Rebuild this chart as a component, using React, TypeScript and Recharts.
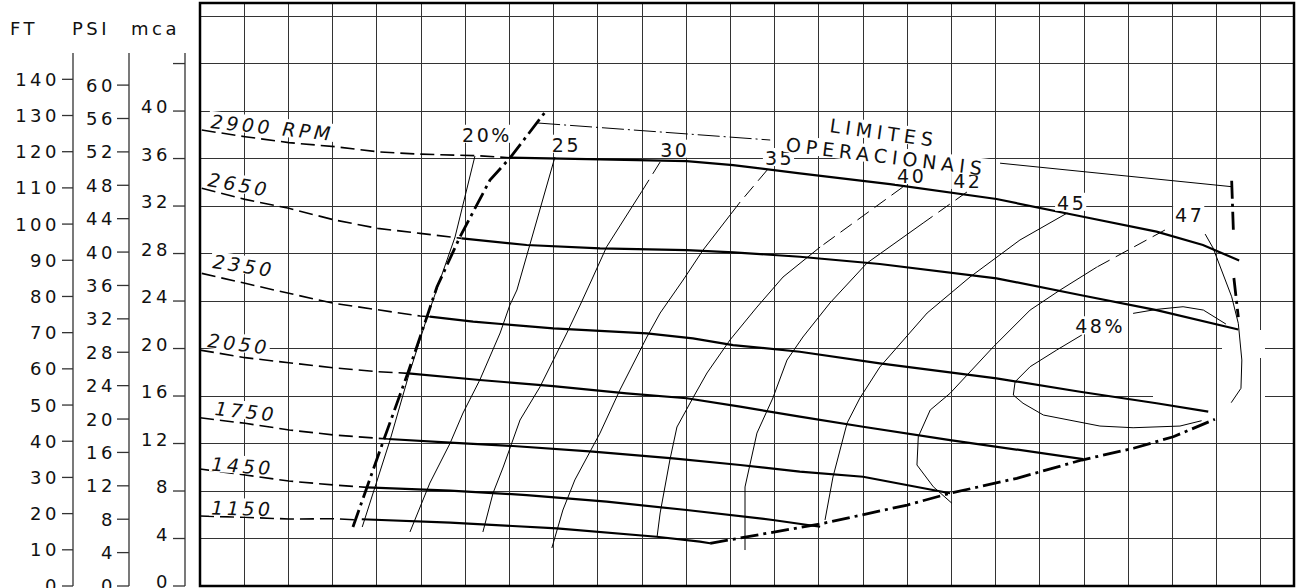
import {
  CartesianGrid,
  Line,
  LineChart,
  ReferenceArea,
  ReferenceDot,
  XAxis,
  YAxis,
} from "recharts";

type Pt = [number, number];

// Q em divisões da grade (o original não tem escala de vazão), H em mca
const RPM_2900_DASH: Pt[] = [[0.04, 38.4], [1.02, 37.84], [2.01, 37.34], [3.05, 37.0], [4.02, 36.57], [4.9, 36.38], [6.26, 36.24], [7.01, 36.07]];
const RPM_2900: Pt[] = [[7.01, 36.07], [9.05, 35.93], [11.01, 35.79], [12.06, 35.45], [13.57, 34.75], [15.61, 33.85], [18.02, 32.59], [19.98, 31.1], [21.64, 29.84], [22.69, 28.72], [23.51, 27.41]];
const RPM_2650_DASH: Pt[] = [[0.04, 33.49], [1.02, 32.56], [2.01, 31.81], [3.05, 30.82], [4.02, 30.12], [4.98, 29.7], [5.92, 29.28]];
const RPM_2650: Pt[] = [[5.92, 29.28], [7.39, 28.72], [9.05, 28.44], [11.01, 28.29], [12.07, 28.1], [13.57, 27.73], [15.38, 27.12], [18.02, 25.91], [19.91, 24.51], [21.64, 23.24], [23.49, 21.6]];
const RPM_2350_DASH: Pt[] = [[0.04, 26.33], [1.02, 25.49], [2.01, 24.65], [3.02, 23.81], [4.98, 22.74], [5.2, 22.68]];
const RPM_2350: Pt[] = [[5.2, 22.68], [6.18, 22.26], [7.99, 21.7], [10.11, 21.28], [11.15, 20.86], [12.06, 20.29], [13.57, 19.73], [15.38, 18.75], [18.02, 17.49], [19.91, 16.36], [21.64, 15.39], [22.81, 14.68]];
const RPM_2050_DASH: Pt[] = [[0, 19.87], [1.02, 19.23], [2.01, 18.8], [3.02, 18.38], [4.02, 18.05], [4.71, 17.91]];
const RPM_2050: Pt[] = [[4.71, 17.9], [6.33, 17.35], [7.99, 16.84], [9.65, 16.23], [11.01, 15.81], [12.22, 15.1], [13.57, 14.26], [15.0, 13.41], [16.97, 12.29], [19.98, 10.69]];
const RPM_1750_DASH: Pt[] = [[0, 14.17], [1.02, 13.7], [2.02, 13.14], [3.02, 12.72], [4.02, 12.44], [4.26, 12.38]];
const RPM_1750: Pt[] = [[4.26, 12.38], [5.66, 12.07], [7.08, 11.79], [8.89, 11.31], [10.7, 10.75], [12.22, 10.19], [13.57, 9.63], [15.0, 9.2], [16.97, 7.81]];
const RPM_1450_DASH: Pt[] = [[0, 9.85], [1.02, 9.35], [2.01, 8.84], [3.02, 8.51], [3.77, 8.31]];
const RPM_1450: Pt[] = [[3.77, 8.31], [5.66, 8.03], [7.39, 7.66], [9.2, 7.1], [11.01, 6.4], [12.96, 5.56], [14.03, 4.99]];
const RPM_1150_DASH: Pt[] = [[0, 5.89], [1.02, 5.79], [2.01, 5.64], [3.02, 5.67], [3.55, 5.56]];
const RPM_1150: Pt[] = [[3.66, 5.62], [5.66, 5.33], [8.07, 4.86], [10.33, 4.15], [11.31, 3.73], [11.54, 3.6]];

// curvas de rendimento
const EFF_20: Pt[] = [[6.22, 36.21], [5.77, 29.39], [5.43, 25.77], [5.14, 22.65], [4.71, 17.6], [4.3, 12.29], [3.67, 4.97]];
const EFF_25: Pt[] = [[8.03, 36.13], [7.17, 24.93], [7.01, 23.66], [6.79, 21.31], [6.33, 17.35], [5.95, 14.57], [5.66, 12.04], [5.2, 8.67], [4.75, 4.55]];
const EFF_30_DASH: Pt[] = [[10.41, 35.71], [9.99, 33.2]];
const EFF_30: Pt[] = [[9.99, 33.2], [9.2, 28.57], [8.86, 25.77], [8.6, 23.66], [8.3, 21.31], [7.69, 16.76], [7.24, 13.98], [6.86, 10.02], [6.63, 7.83], [6.4, 4.55]];
const EFF_35_DASH: Pt[] = [[12.83, 35.03], [12.22, 32.34]];
const EFF_35: Pt[] = [[12.22, 32.34], [11.38, 28.29], [10.93, 25.77], [10.41, 22.99], [10.11, 20.97], [9.5, 16.51], [9.05, 12.88], [8.48, 8.93], [8.21, 6.4], [7.96, 3.2]];
const EFF_40_DASH: Pt[] = [[15.9, 33.6], [14.03, 28.55]];
const EFF_40: Pt[] = [[14.03, 28.55], [13.19, 26.02], [12.6, 23.49], [11.99, 20.72], [11.47, 17.94], [11.15, 15.83], [10.79, 13.39], [10.63, 10.61], [10.41, 6.15], [10.34, 4.13]];
const EFF_42_DASH: Pt[] = [[17.35, 33.18], [16.36, 30.57]];
const EFF_42: Pt[] = [[16.36, 30.57], [15.09, 27.2], [14.25, 23.83], [13.64, 20.97], [13.28, 19.03], [12.96, 15.83], [12.6, 12.88], [12.33, 8.34], [12.33, 3.03]];
const EFF_45: Pt[] = [[19.62, 31.41], [18.55, 29.14], [17.42, 26.02], [16.45, 22.99], [15.38, 18.44], [14.93, 15.83], [14.64, 13.73], [14.32, 9.18], [14.14, 5.56]];
const EFF_47_DASH: Pt[] = [[21.83, 29.98], [20.29, 26.86]];
const EFF_47: Pt[] = [[20.29, 26.86], [19.46, 24.93], [18.78, 23.24], [17.95, 20.15], [16.97, 16.23], [16.52, 14.82], [16.25, 12.57], [16.22, 10.19], [16.59, 8.36], [17.01, 6.97]];
const EFF_47_RIGHT: Pt[] = [[22.74, 29.64], [22.92, 28.46], [23.34, 24.36], [23.49, 22.12], [23.57, 19.03], [23.55, 16.65], [23.33, 15.44]];
const EFF_48_LOW: Pt[] = [[19.95, 21.14], [19.38, 19.87], [18.78, 18.47], [18.44, 17.2], [18.4, 16.08], [18.62, 15.39], [19.08, 14.4], [20.36, 13.47], [21.11, 13.33], [22.17, 13.47], [22.66, 13.92]];
const EFF_48_TOP: Pt[] = [[21.11, 22.96], [21.65, 23.3], [22.24, 23.52], [22.7, 23.24], [23.21, 22.06]];

// limites operacionais
const LIMIT_LEFT: Pt[] = [[3.46, 4.97], [3.78, 8.34], [4.14, 12.13], [4.71, 18.02], [4.98, 20.97], [5.36, 25.18], [5.88, 29.39], [6.56, 34.19], [7.01, 36.04], [7.81, 39.92]];
const LIMIT_LOW: Pt[] = [[11.54, 3.6], [14.03, 5.22], [16.0, 6.82], [16.97, 7.81], [18.48, 9.07], [19.95, 10.61], [21.12, 11.6], [22.02, 12.57], [22.96, 14.04]];
const LIMIT_RIGHT_A: Pt[] = [[23.34, 34.13], [23.38, 29.75]];
const LIMIT_RIGHT_B: Pt[] = [[23.39, 25.94], [23.49, 22.65]];
const LEADER_TOP: Pt[] = [[7.65, 38.99], [12.9, 37.56]];
const LEADER_RIGHT: Pt[] = [[18.1, 35.61], [23.34, 33.63]];

const RPM_LABELS = ["2900 RPM", "2650", "2350", "2050", "1750", "1450", "1150"];
const EFF_LABELS = ["20%", "25", "30", "35", "40", "42", "45", "47", "48%"];
const LIMIT_LABELS = ["LIMITES", "OPERACIONAIS"];

const MCA_TICKS = [0, 4, 8, 12, 16, 20, 24, 28, 32, 36, 40, 44];
const PSI_TICKS = [0, 4, 8, 12, 16, 20, 24, 28, 32, 36, 40, 44, 48, 52, 56, 60];
const FT_TICKS = [0, 10, 20, 30, 40, 50, 60, 70, 80, 90, 100, 110, 120, 130, 140];
const GRID_H = [4, 8, 12, 16, 20, 24, 28, 32, 36, 40, 44, 48];
const GRID_Q = [1, 2, 3, 4, 5, 6, 7, 8, 9, 10, 11, 12, 13, 14, 15, 16, 17, 18, 19, 20, 21, 22, 23, 24];

// trechos apagados da grade no original (perto do limite à direita)
const GAPS_H = [
  { at: 20, from: 23.13, to: 24.1 },
  { at: 16, from: 21.55, to: 24.1 },
];
const GAPS_V = [{ at: 24, from: 19.2, to: 21.55 }];

const Q_MAX = 24.75;
const H_MAX = 49.1;
const FT_MAX = H_MAX * 3.2808;
const PSI_MAX = H_MAX * 1.4223;

const FONT = "DejaVu Sans";
const INK = "#111";
const GRID_INK = "#333";

const STYLE = {
  rpm: { stroke: "#000", strokeWidth: 2.2 },
  rpmDash: { stroke: "#000", strokeWidth: 1.6, strokeDasharray: "14 6" },
  eff: { stroke: "#000", strokeWidth: 1 },
  effDash: { stroke: "#000", strokeWidth: 1, strokeDasharray: "14 7" },
  limit: { stroke: "#000", strokeWidth: 2.8, strokeDasharray: "18 5 3 5" },
  leader: { stroke: "#000", strokeWidth: 1 },
  leaderDash: { stroke: "#000", strokeWidth: 1, strokeDasharray: "22 4 2 4" },
};

const CURVES: { key: string; pts: Pt[]; style: keyof typeof STYLE }[] = [
  { key: "g20", pts: EFF_20, style: "eff" },
  { key: "g25", pts: EFF_25, style: "eff" },
  { key: "g30d", pts: EFF_30_DASH, style: "effDash" },
  { key: "g30", pts: EFF_30, style: "eff" },
  { key: "g35d", pts: EFF_35_DASH, style: "effDash" },
  { key: "g35", pts: EFF_35, style: "eff" },
  { key: "g40d", pts: EFF_40_DASH, style: "effDash" },
  { key: "g40", pts: EFF_40, style: "eff" },
  { key: "g42d", pts: EFF_42_DASH, style: "effDash" },
  { key: "g42", pts: EFF_42, style: "eff" },
  { key: "g45", pts: EFF_45, style: "eff" },
  { key: "g47d", pts: EFF_47_DASH, style: "effDash" },
  { key: "g47", pts: EFF_47, style: "eff" },
  { key: "g47r", pts: EFF_47_RIGHT, style: "eff" },
  { key: "g48a", pts: EFF_48_LOW, style: "eff" },
  { key: "g48b", pts: EFF_48_TOP, style: "eff" },
  { key: "r2900d", pts: RPM_2900_DASH, style: "rpmDash" },
  { key: "r2900", pts: RPM_2900, style: "rpm" },
  { key: "r2650d", pts: RPM_2650_DASH, style: "rpmDash" },
  { key: "r2650", pts: RPM_2650, style: "rpm" },
  { key: "r2350d", pts: RPM_2350_DASH, style: "rpmDash" },
  { key: "r2350", pts: RPM_2350, style: "rpm" },
  { key: "r2050d", pts: RPM_2050_DASH, style: "rpmDash" },
  { key: "r2050", pts: RPM_2050, style: "rpm" },
  { key: "r1750d", pts: RPM_1750_DASH, style: "rpmDash" },
  { key: "r1750", pts: RPM_1750, style: "rpm" },
  { key: "r1450d", pts: RPM_1450_DASH, style: "rpmDash" },
  { key: "r1450", pts: RPM_1450, style: "rpm" },
  { key: "r1150d", pts: RPM_1150_DASH, style: "rpmDash" },
  { key: "r1150", pts: RPM_1150, style: "rpm" },
  { key: "limL", pts: LIMIT_LEFT, style: "limit" },
  { key: "limB", pts: LIMIT_LOW, style: "limit" },
  { key: "limRa", pts: LIMIT_RIGHT_A, style: "limit" },
  { key: "limRb", pts: LIMIT_RIGHT_B, style: "limit" },
  { key: "ldT", pts: LEADER_TOP, style: "leaderDash" },
  { key: "ldR", pts: LEADER_RIGHT, style: "leader" },
];

type TagPos = { q: number; h: number; angle: number; size: number; ls: number; italic?: boolean };

const RPM_POS: TagPos[] = [
  { q: 0.23, h: 38.57, angle: 6, size: 19, ls: 3.5, italic: true },
  { q: 0.16, h: 33.68, angle: 10, size: 19, ls: 3.5, italic: true },
  { q: 0.27, h: 26.78, angle: 8.5, size: 19, ls: 3.5, italic: true },
  { q: 0.16, h: 20.13, angle: 7, size: 19, ls: 3.5, italic: true },
  { q: 0.32, h: 14.4, angle: 6, size: 19, ls: 3.5, italic: true },
  { q: 0.25, h: 9.71, angle: 4, size: 19, ls: 3.5, italic: true },
  { q: 0.25, h: 6.02, angle: 1.5, size: 19, ls: 3.5, italic: true },
];
const EFF_POS: TagPos[] = [
  { q: 5.93, h: 37.41, angle: 0, size: 19, ls: 2.5 },
  { q: 7.96, h: 36.57, angle: 0, size: 19, ls: 2.5 },
  { q: 10.41, h: 36.15, angle: 0, size: 19, ls: 2.5 },
  { q: 12.78, h: 35.45, angle: 0, size: 19, ls: 2.5 },
  { q: 15.77, h: 33.94, angle: 0, size: 19, ls: 2.5 },
  { q: 17.04, h: 33.52, angle: 0, size: 19, ls: 2.5 },
  { q: 19.39, h: 31.68, angle: 0, size: 19, ls: 2.5 },
  { q: 22.06, h: 30.68, angle: 0, size: 19, ls: 2.5 },
  { q: 19.8, h: 21.28, angle: 0, size: 19, ls: 2.5 },
];
const LIMIT_POS: TagPos[] = [
  { q: 14.23, h: 38.23, angle: 8, size: 19, ls: 5 },
  { q: 13.24, h: 36.63, angle: 7, size: 19, ls: 5 },
];

const CHAR_EM: Record<string, number> = {
  " ": 0.318, "%": 0.95, R: 0.695, P: 0.603, M: 0.863, L: 0.557, I: 0.295,
  T: 0.611, E: 0.632, S: 0.635, O: 0.787, A: 0.684, C: 0.698, N: 0.748,
};

function textWidth(s: string, size: number, ls: number) {
  let w = 0;
  for (const ch of s) w += (CHAR_EM[ch] ?? 0.636) * size + ls;
  return w;
}

const rows = (pts: Pt[]) => pts.map(([q, h]) => ({ q, h }));

function tagLabel(text: string, t: TagPos) {
  return (props: any) => {
    const vb = props.viewBox ?? {};
    const cx = (vb.x ?? 0) + (vb.width ?? 0) / 2;
    const cy = (vb.y ?? 0) + (vb.height ?? 0) / 2;
    const w = textWidth(text, t.size, t.ls);
    const cap = t.size * 0.74;
    return (
      <g transform={`translate(${cx} ${cy}) rotate(${t.angle})`}>
        <rect x={-2} y={-cap - 3} width={w + 2} height={cap + 4} fill="#fff" />
        <text
          x={0}
          y={0}
          fontFamily={FONT}
          fontSize={t.size}
          fontStyle={t.italic ? "italic" : "normal"}
          letterSpacing={t.ls}
          fill={INK}
        >
          {text}
        </text>
      </g>
    );
  };
}

// linhas da grade, com os trechos interrompidos do desenho original
function gridLine(kind: "h" | "v") {
  return (props: any) => {
    const { x1, y1, x2, y2, x, y, width, height } = props;
    const style = { stroke: GRID_INK, strokeWidth: 1, shapeRendering: "crispEdges" as const };
    if (![x, y, width, height].every((n) => typeof n === "number")) {
      return <line key={props.key} x1={x1} y1={y1} x2={x2} y2={y2} {...style} />;
    }
    if (kind === "h") {
      const h = ((y + height - y1) / height) * H_MAX;
      const gap = GAPS_H.find((g) => Math.abs(g.at - h) < 0.2);
      if (gap) {
        const a = x + (gap.from / Q_MAX) * width;
        const b = x + (gap.to / Q_MAX) * width;
        return (
          <g key={props.key}>
            <line x1={x1} y1={y1} x2={a} y2={y1} {...style} />
            <line x1={b} y1={y1} x2={x2} y2={y1} {...style} />
          </g>
        );
      }
    } else {
      const q = ((x1 - x) / width) * Q_MAX;
      const gap = GAPS_V.find((g) => Math.abs(g.at - q) < 0.1);
      if (gap) {
        const a = y + height - (gap.to / H_MAX) * height;
        const b = y + height - (gap.from / H_MAX) * height;
        return (
          <g key={props.key}>
            <line x1={x1} y1={y1} x2={x1} y2={a} {...style} />
            <line x1={x1} y1={b} x2={x1} y2={y2} {...style} />
          </g>
        );
      }
    }
    return <line key={props.key} x1={x1} y1={y1} x2={x2} y2={y2} {...style} />;
  };
}

function AxisTick(props: any) {
  const { x, y, payload, hide, dy } = props;
  if (hide && hide.includes(payload.value)) return null;
  return (
    <text
      x={x}
      y={y}
      dy={dy ?? "0.36em"}
      textAnchor="end"
      fontFamily={FONT}
      fontSize={18}
      letterSpacing={3.5}
      fill={INK}
    >
      {payload.value}
    </text>
  );
}

const EmptyTick = () => <g />;

const header = (text: string, dx: number) => (props: any) => {
  const vb = props.viewBox ?? {};
  return (
    <text
      x={(vb.x ?? 0) + (vb.width ?? 0) + dx}
      y={(vb.y ?? 0) + 32}
      fontFamily={FONT}
      fontSize={18}
      letterSpacing={3.5}
      fill={INK}
    >
      {text}
    </text>
  );
};

const AXIS_LINE = { stroke: "#333", strokeWidth: 1.3, strokeDasharray: "0 50 2000" };
const TICK_LINE = { stroke: "#333", strokeWidth: 1.3 };

export default function App() {
  const tags = [
    ...RPM_LABELS.map((s, i) => ({ s, p: RPM_POS[i] })),
    ...EFF_LABELS.map((s, i) => ({ s, p: EFF_POS[i] })),
    ...LIMIT_LABELS.map((s, i) => ({ s, p: LIMIT_POS[i] })),
  ];

  // os eixos Y à esquerda são empilhados pela ordem dos ids (a = junto ao gráfico)
  return (
    <div style={{ position: "absolute", left: 0, top: 0, background: "#fff" }}>
      <LineChart width={1296} height={588} margin={{ top: 3, right: 2, bottom: 2, left: 0 }}>
        <CartesianGrid
          xAxisId="q"
          yAxisId="a_pad"
          horizontal={gridLine("h")}
          vertical={gridLine("v")}
        />
        <XAxis
          xAxisId="q"
          dataKey="q"
          type="number"
          domain={[0, Q_MAX]}
          ticks={GRID_Q}
          interval={0}
          allowDataOverflow
          hide
        />
        <YAxis
          yAxisId="a_pad"
          width={15}
          domain={[0, H_MAX]}
          ticks={GRID_H}
          interval={0}
          allowDataOverflow
          tick={<EmptyTick />}
          tickLine={false}
          axisLine={false}
        />
        <YAxis
          yAxisId="b_mca"
          width={56}
          domain={[0, H_MAX]}
          ticks={MCA_TICKS}
          interval={0}
          allowDataOverflow
          tickSize={12}
          tickMargin={2}
          axisLine={AXIS_LINE}
          tickLine={TICK_LINE}
          tick={<AxisTick dy={2} hide={[44]} />}
          label={header("mca", -54)}
        />
        <YAxis
          yAxisId="c_psi"
          width={56}
          domain={[0, PSI_MAX]}
          ticks={PSI_TICKS}
          interval={0}
          allowDataOverflow
          tickSize={12}
          tickMargin={1}
          axisLine={AXIS_LINE}
          tickLine={TICK_LINE}
          tick={<AxisTick />}
          label={header("PSI", -57)}
        />
        <YAxis
          yAxisId="d_ft"
          width={73}
          domain={[0, FT_MAX]}
          ticks={FT_TICKS}
          interval={0}
          allowDataOverflow
          tickSize={11}
          tickMargin={2}
          axisLine={AXIS_LINE}
          tickLine={TICK_LINE}
          tick={<AxisTick />}
          label={header("FT", -63)}
        />
        {CURVES.map((c) => (
          <Line
            key={c.key}
            data={rows(c.pts)}
            dataKey="h"
            xAxisId="q"
            yAxisId="b_mca"
            type="linear"
            dot={false}
            activeDot={false}
            legendType="none"
            isAnimationActive={false}
            {...STYLE[c.style]}
          />
        ))}
        {tags.map((t) => (
          <ReferenceDot
            key={t.s}
            xAxisId="q"
            yAxisId="b_mca"
            x={t.p.q}
            y={t.p.h}
            r={1}
            fill="none"
            stroke="none"
            ifOverflow="visible"
            label={tagLabel(t.s, t.p)}
          />
        ))}
        <ReferenceArea
          xAxisId="q"
          yAxisId="b_mca"
          x1={0}
          x2={Q_MAX}
          y1={0}
          y2={H_MAX}
          fill="none"
          stroke="#000"
          strokeWidth={2.5}
          ifOverflow="visible"
        />
      </LineChart>
    </div>
  );
}
